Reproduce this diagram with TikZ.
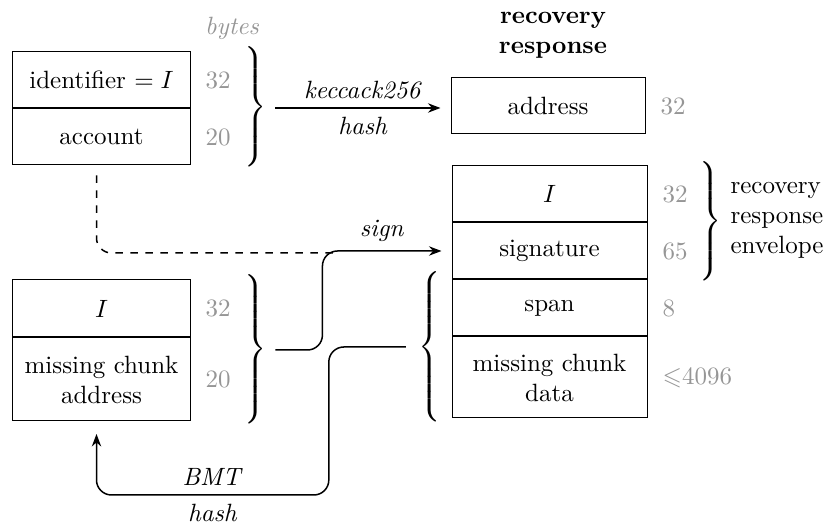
\documentclass[tikz,border=0pt]{standalone}
\usepackage{amsmath}
\usepackage{amssymb}
\usetikzlibrary{arrows.meta, positioning, calc}
\definecolor{bytegray}{RGB}{150,150,150}
\newcommand{\closebrace}[1]{$\left.\vrule height #1 depth #1 width 0pt\right\}$}
\newcommand{\openbrace}[1]{$\left\{\vrule height #1 depth #1 width 0pt\right.$}

\begin{document}
\begin{tikzpicture}[x=0.4pt, y=-0.4pt,
    field/.style={draw, minimum width=70.8pt, minimum height=22.4pt, inner sep=0pt, align=center},
    rfield/.style={field, minimum width=78pt},
    size/.style={text=bytegray},
    flow/.style={semithick, -{Stealth[length=5pt]}, rounded corners=6pt}]
\useasboundingbox (0,0) rectangle (827,524);

% request: identifier and account
\node[size, font=\itshape] (bytes) at (232,28) {bytes};
\node[field] (id) at (101.5,80) {identifier $=I$};
\node[field, below=0pt of id] (acct) {account};
\node[size, right=2.5pt of id] (idsz) {32};
\node[size, right=2.5pt of acct] (acctsz) {20};
\node (br1) at (254,108) {\closebrace{22.6pt}};

% recovery response address
\node[font=\bfseries, align=center] (title) at (553,35) {recovery\\response};
\node[rfield, minimum width=77.6pt] (addr) at (548,106) {address};
\node[size, right=2.5pt of addr] (addrsz) {32};
\draw[semithick, -{Stealth[length=5pt]}, shorten >=4pt] (br1.east) -- (br1.east -| addr.west)
    node[midway, above] {\textit{keccack256}}
    node[midway, below] {\textit{hash}};

% missing chunk
\node[field, minimum height=22.8pt] (ident) at (101.5,308.5) {$I$};
\node[field, minimum height=33.2pt, below=0pt of ident] (chunkaddr) {missing chunk\\address};
\node[size, right=2.5pt of ident] (identsz) {32};
\node[size, right=2.5pt of chunkaddr] (chunkaddrsz) {20};
\node (br2) at (254,350) {\closebrace{28pt}};

% recovery response envelope and chunk
\node[rfield] (ri) at (549.5,194) {$I$};
\node[rfield, below=0pt of ri] (sig) {signature};
\node[rfield, below=0pt of sig] (span) {span};
\node[rfield, minimum height=32.4pt, below=0pt of span] (chunkdata) {missing chunk\\data};
\node[size, right=2.5pt of ri] (risz) {32};
\node[size, right=2.5pt of sig] (sigsz) {65};
\node[size, right=2.5pt of span] (spansz) {8};
\node[size, right=2.5pt of chunkdata] (datasz) {$\leqslant$4096};
\node (br3) at (709,222) {\closebrace{22.2pt}};
\node[anchor=west, align=left, inner sep=0pt] (env) at (730,220) {recovery\\response\\envelope};
\node (br4) at (431,347) {\openbrace{27.4pt}};

% sign and BMT hash
\coordinate (join) at (333,253);
\draw[semithick, dashed, rounded corners=6pt] ([xshift=-2pt, yshift=-4pt]acct.south) |- (join);
\draw[flow] (br2.east) -- ++(47,0) |- ([xshift=-4pt]sig.west)
    node[pos=0.75, above] {\textit{sign}};
\draw[flow] ([xshift=-1.5pt]br4.west) -| ++(-77,148) -| ([xshift=-2pt, yshift=-5pt]chunkaddr.south)
    node[pos=0.25, above] {\textit{BMT}}
    node[pos=0.25, below] {\textit{hash}};
\end{tikzpicture}
\end{document}
